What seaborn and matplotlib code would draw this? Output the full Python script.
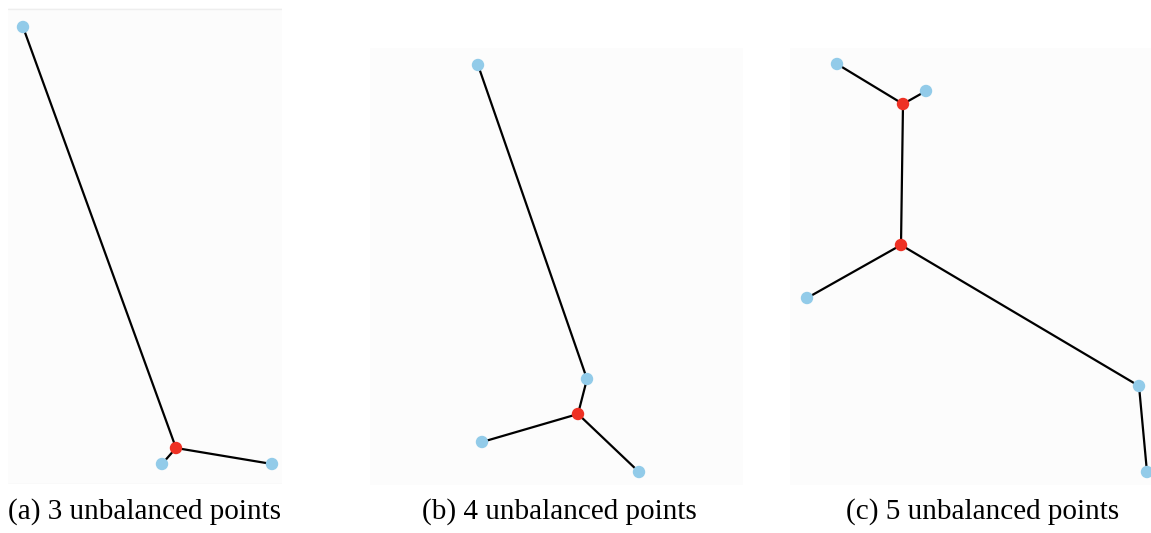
import matplotlib
matplotlib.use("Agg")
import seaborn as sns
import matplotlib.pyplot as plt
import pandas as pd

sns.set_theme(style="white")
plt.rcParams['font.family'] = ['Liberation Serif', 'DejaVu Serif']

# point coordinates per panel (pixel-like units, y grows downwards)
a_x = [23, 162, 272, 176]
a_y = [27, 464, 464, 448]
a_kind = ["given", "given", "given", "steiner"]
a_edges = [(0, 3), (1, 3), (2, 3)]

b_x = [478, 587, 482, 639, 578]
b_y = [65, 379, 442, 472, 414]
b_kind = ["given", "given", "given", "given", "steiner"]
b_edges = [(0, 1), (1, 4), (2, 4), (3, 4)]

c_x = [837, 926, 807, 1139, 1147, 903, 901]
c_y = [64, 91, 298, 386, 472, 104, 245]
c_kind = ["given", "given", "given", "given", "given", "steiner", "steiner"]
c_edges = [(0, 5), (1, 5), (5, 6), (2, 6), (3, 6), (3, 4)]

captions = ["(a) 3 unbalanced points", "(b) 4 unbalanced points", "(c) 5 unbalanced points"]

# panel boxes in pixels: left, top, right, bottom
boxes = [(8, 8, 282, 484), (370, 48, 743, 485), (790, 48, 1175, 485)]
caption_x = [145, 559, 983]

W, H = 1151, 533
fig = plt.figure(figsize=(W / 100, H / 100), dpi=100)
palette = {"given": "#92cbe9", "steiner": "#ee3124"}

panels = [(a_x, a_y, a_kind, a_edges), (b_x, b_y, b_kind, b_edges), (c_x, c_y, c_kind, c_edges)]
for i, (xs, ys, kind, edges) in enumerate(panels):
    l, t, r, b = boxes[i]
    ax = fig.add_axes([l / W, 1 - b / H, (r - l) / W, (b - t) / H])
    ax.set_facecolor("#fcfcfc")
    for a, c in edges:
        ax.plot([xs[a], xs[c]], [ys[a], ys[c]], color="black", lw=1.6, zorder=1)
    df = pd.DataFrame({"x": xs, "y": ys, "kind": kind})
    sns.scatterplot(data=df, x="x", y="y", hue="kind", palette=palette, s=80,
                    edgecolor="none", legend=False, ax=ax, zorder=2, clip_on=True)
    ax.set_xlim(l, r)
    ax.set_ylim(b, t)
    ax.set_xticks([])
    ax.set_yticks([])
    ax.set_xlabel("")
    ax.set_ylabel("")
    for s in ax.spines.values():
        s.set_visible(False)
    if i == 0:
        ax.axhline(t + 0.5, color="#eeeeee", lw=1)
        ax.axhline(b - 0.5, color="#eeeeee", lw=1)
    fig.text(caption_x[i] / W, 1 - 512 / H, captions[i], ha="center", va="center",
             fontsize=21, color="black")

fig.savefig("out.png", dpi=100, facecolor="white")
